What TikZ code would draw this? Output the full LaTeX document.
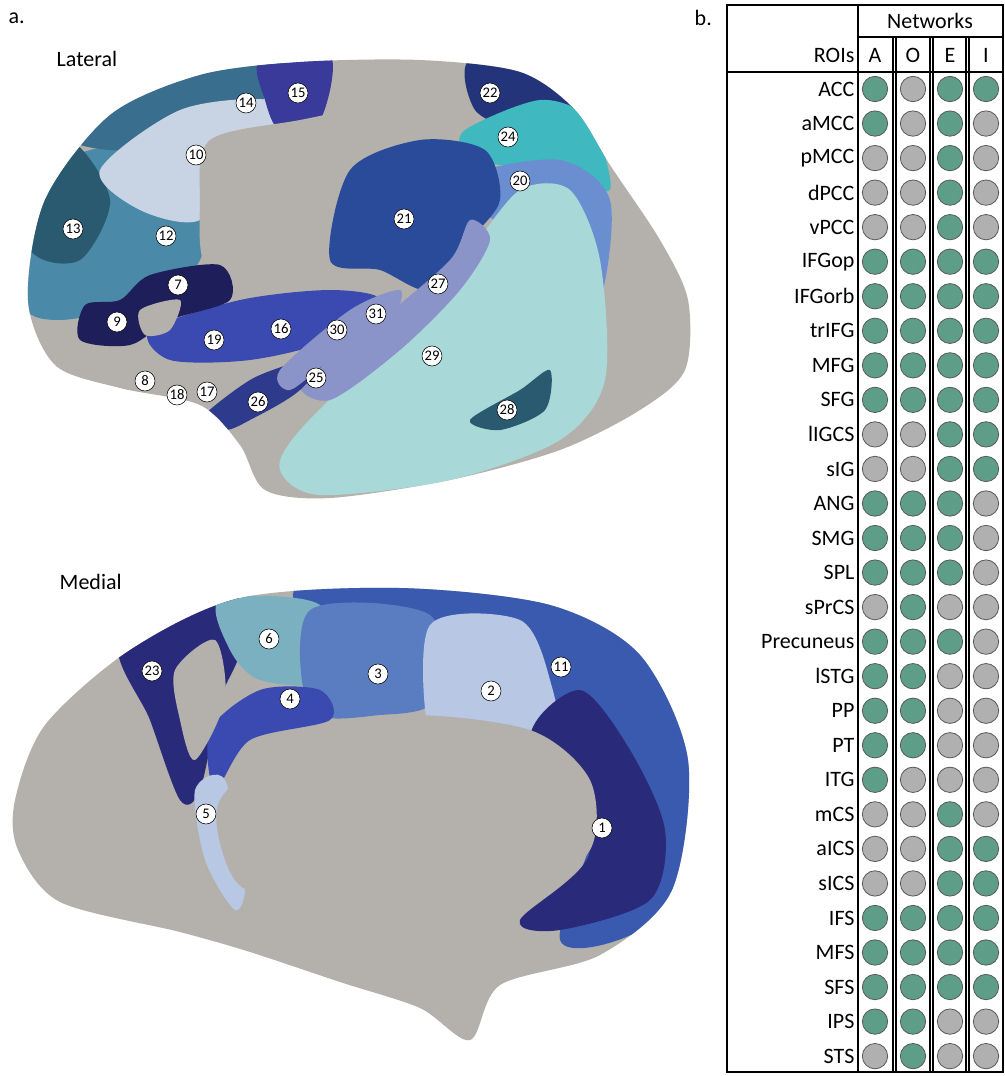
\documentclass[tikz,border=0pt]{standalone}
\usepackage{fontspec}
\setmainfont{Carlito}
\begin{document}
\begin{tikzpicture}[x=0.75pt,y=-0.75pt,
  num/.style={circle,draw=black,fill=white,inner sep=0pt,minimum size=15pt,font=\fontsize{11}{11}\selectfont},
  lab/.style={font=\fontsize{16.5}{16.5}\selectfont},
  roi/.style={anchor=east,font=\fontsize{16.5}{16.5}\selectfont,inner sep=1pt},
  dotg/.style={circle,draw=gray!70!black,fill=gcol,line width=0.6pt,minimum size=19pt,inner sep=0pt},
  dotn/.style={circle,draw=gray!70!black,fill=ncol,line width=0.6pt,minimum size=19pt,inner sep=0pt}]
\definecolor{base}{HTML}{B4B1AC}
\definecolor{gcol}{HTML}{5E9E88}
\definecolor{ncol}{HTML}{B0B0B0}
\definecolor{cA}{HTML}{2A5A70}
\definecolor{cB}{HTML}{4A8AA8}
\definecolor{cC}{HTML}{C8D4E4}
\definecolor{cD}{HTML}{3A6E8E}
\definecolor{cE}{HTML}{3A3A9A}
\definecolor{cF}{HTML}{2A4A9A}
\definecolor{cG}{HTML}{24347A}
\definecolor{cH}{HTML}{40B8C0}
\definecolor{cI}{HTML}{6A8ED0}
\definecolor{cJ}{HTML}{A8D8D8}
\definecolor{cK}{HTML}{8A94C8}
\definecolor{cL}{HTML}{1E1E5A}
\definecolor{cM}{HTML}{3A4AB0}
\definecolor{cN}{HTML}{7AB0C0}
\definecolor{cO}{HTML}{5A7CC0}
\definecolor{cP}{HTML}{B8C8E4}
\definecolor{cQ}{HTML}{3A5AB0}
\definecolor{cR}{HTML}{2A2A7A}
\useasboundingbox (0,0) rectangle (1005,1076);
\fill[white] (0,0) rectangle (1005,1076);
% ---------- lateral brain ----------
\begin{scope}
\clip plot[smooth cycle] coordinates {(28,300) (45,200) (110,115) (200,75) (300,62) (420,60) (520,72) (575,110) (610,165) (660,240) (688,300) (685,370) (640,410) (560,450) (450,480) (330,498) (265,490) (240,445) (200,405) (120,388) (55,365)};
\fill[base] (0,40) rectangle (700,510);
\fill[cB] plot[smooth cycle] coordinates {(20,190) (90,150) (160,150) (210,180) (200,260) (150,300) (60,320) (20,300)};
\fill[cA] plot[smooth cycle] coordinates {(10,160) (70,140) (110,200) (80,260) (30,250)};
\fill[cD] plot[smooth cycle] coordinates {(60,130) (180,60) (280,60) (250,110) (130,150)};
\fill[cC] plot[smooth cycle] coordinates {(100,170) (180,110) (270,100) (300,130) (240,160) (200,220) (140,210)};
\fill[cE] plot[smooth cycle] coordinates {(260,60) (330,55) (320,120) (280,130) (265,100)};
\fill[base] plot[smooth cycle] coordinates {(210,140) (300,120) (420,100) (480,130) (470,170) (380,170) (300,240) (210,270) (200,200)};
\fill[cG] plot[smooth cycle] coordinates {(470,60) (560,70) (570,120) (520,130) (475,110)};
\fill[cH] plot[smooth cycle] coordinates {(465,130) (540,100) (590,120) (610,190) (560,170) (500,165) (465,155)};
\fill[cI] plot[smooth cycle] coordinates {(470,175) (560,160) (610,200) (600,300) (560,330) (520,240) (480,210)};
\fill[cJ] plot[smooth cycle] coordinates {(300,430) (400,330) (470,250) (520,190) (570,190) (600,260) (605,380) (560,440) (450,480) (320,495) (280,470)};
\fill[cF] plot[smooth cycle] coordinates {(350,170) (420,140) (485,150) (500,200) (470,240) (430,290) (380,270) (330,260)};
\fill[cK] plot[smooth cycle] coordinates {(300,380) (380,320) (450,260) (470,220) (490,240) (460,290) (400,350) (330,400)};
\fill[cM] plot[smooth cycle] coordinates {(150,330) (240,300) (330,290) (380,300) (330,340) (250,360) (170,360)};
\fill[cL] plot[smooth cycle] coordinates {(150,275) (220,265) (230,300) (170,320) (130,345) (80,340) (85,305) (120,300)};
\fill[base] plot[smooth cycle] coordinates {(140,310) (180,300) (170,330) (145,335)};
\fill[cM!80!black] plot[smooth cycle] coordinates {(200,420) (250,380) (300,360) (340,340) (300,390) (250,420) (225,430)};
\fill[cA] plot[smooth cycle] coordinates {(470,420) (520,390) (550,370) (545,410) (500,430)};
\fill[cK] plot[smooth cycle] coordinates {(280,370) (350,310) (400,290) (390,320) (330,360) (290,390)};
\end{scope}
\node[num] (n14) at (246,103) {14};
\node[num] (n15) at (298,93) {15};
\node[num] (n10) at (196,155) {10};
\node[num] (n12) at (166,236) {12};
\node[num] (n13) at (73,229) {13};
\node[num] (n7) at (178,285) {7};
\node[num] (n9) at (117,322) {9};
\node[num] (n19) at (214,340) {19};
\node[num] (n16) at (281,329) {16};
\node[num] (n30) at (337,330) {30};
\node[num] (n31) at (376,314) {31};
\node[num] (n27) at (438,284) {27};
\node[num] (n21) at (404,219) {21};
\node[num] (n20) at (520,181) {20};
\node[num] (n22) at (490,93) {22};
\node[num] (n24) at (508,137) {24};
\node[num] (n29) at (432,356) {29};
\node[num] (n25) at (316,378) {25};
\node[num] (n26) at (258,402) {26};
\node[num] (n17) at (207,392) {17};
\node[num] (n18) at (177,395) {18};
\node[num] (n8) at (145,381) {8};
\node[num] (n28) at (507,410) {28};
% ---------- medial brain ----------
\begin{scope}
\clip plot[smooth cycle] coordinates {(15,800) (45,725) (130,650) (240,598) (400,588) (550,605) (640,655) (688,760) (672,890) (600,955) (500,985) (470,1040) (420,1008) (340,982) (250,952) (180,932) (60,902) (18,850)};
\fill[base] (0,570) rectangle (700,1050);
\fill[cQ] plot[smooth cycle] coordinates {(300,585) (450,580) (600,600) (690,700) (700,850) (640,930) (560,940) (600,800) (540,700) (430,620) (320,630)};
\fill[cR] plot[smooth cycle] coordinates {(120,640) (230,590) (240,650) (220,700) (200,790) (180,800) (150,720)};
\fill[cN] plot[smooth cycle] coordinates {(220,600) (320,605) (325,680) (260,680) (230,650)};
\fill[cO] plot[smooth cycle] coordinates {(310,610) (430,615) (435,700) (380,715) (310,710)};
\fill[cP] plot[smooth cycle] coordinates {(430,625) (520,620) (550,680) (555,745) (470,750) (430,740)};
\fill[cR] plot[smooth cycle] coordinates {(530,740) (580,690) (630,750) (665,830) (650,900) (560,930) (520,920) (590,850)};
\fill[cM] plot[smooth cycle] coordinates {(210,730) (260,690) (320,690) (330,720) (250,740) (215,790)};
\fill[cP] plot[smooth cycle] coordinates {(195,790) (225,780) (245,880) (235,910) (205,860)};
\fill[base] plot[smooth cycle] coordinates {(175,670) (215,640) (225,700) (195,760) (180,720)};
\fill[base] plot[smooth cycle] coordinates {(220,800) (290,740) (400,715) (530,730) (590,780) (590,850) (520,900) (420,880) (310,860) (250,890) (225,860)};
\end{scope}
\node[num] (m6) at (269,639) {6};
\node[num] (m23) at (152,671) {23};
\node[num] (m3) at (378,674) {3};
\node[num] (m2) at (491,691) {2};
\node[num] (m11) at (561,667) {11};
\node[num] (m4) at (290,699) {4};
\node[num] (m5) at (206,814) {5};
\node[num] (m1) at (602,828) {1};
% ---------- labels ----------
\node[lab,anchor=west] (ta) at (4,18) {a.};
\node[lab,anchor=west] (tlat) at (52,59) {Lateral};
\node[lab,anchor=west] (tmed) at (55,582) {Medial};
\node[lab,anchor=west] (tb) at (690,18) {b.};
% ---------- table ----------
\draw[line width=1.2pt] (727,5) rectangle (1003,1072);
\draw[line width=1pt] (858,5) -- (858,1072);
\draw[line width=1pt] (858,37) -- (1003,37);
\draw[line width=1.4pt] (727,72) -- (1003,72);
\foreach \xx in {893,896,930,933,966,969} \draw[line width=1pt] (\xx,37) -- (\xx,1072);
\node[lab] (hnet) at (930,21) {Networks};
\node[roi] (hroi) at (856,55) {ROIs};
\node[lab] (hA) at (875,55) {A};
\node[lab] (hO) at (913,55) {O};
\node[lab] (hE) at (950,55) {E};
\node[lab] (hI) at (986,55) {I};
\foreach [count=\i] \nm/\a/\o/\e/\ii in {
ACC/g/n/g/g, aMCC/g/n/g/n, pMCC/n/n/g/n, dPCC/n/n/g/n, vPCC/n/n/g/n,
IFGop/g/g/g/g, IFGorb/g/g/g/g, trIFG/g/g/g/g, MFG/g/g/g/g, SFG/g/g/g/g,
lIGCS/n/n/g/g, sIG/n/n/g/g, ANG/g/g/g/n, SMG/g/g/g/n, SPL/g/g/g/n,
sPrCS/n/g/n/n, Precuneus/g/g/g/n, lSTG/g/g/n/n, PP/g/g/n/n, PT/g/g/n/n,
ITG/g/n/n/n, mCS/n/n/g/n, aICS/n/n/g/g, sICS/n/n/g/g, IFS/g/g/g/g,
MFS/g/g/g/g, SFS/g/g/g/g, IPS/g/g/n/n, STS/n/g/n/n}{
  \pgfmathsetmacro{\yy}{89+(\i-1)*34.54}
  \node[roi] (r\i) at (856,\yy) {\nm};
  \node[dot\a] (a\i) at (875,\yy) {};
  \node[dot\o] (o\i) at (913,\yy) {};
  \node[dot\e] (e\i) at (950,\yy) {};
  \node[dot\ii] (i\i) at (986,\yy) {};
}
\end{tikzpicture}
\end{document}
